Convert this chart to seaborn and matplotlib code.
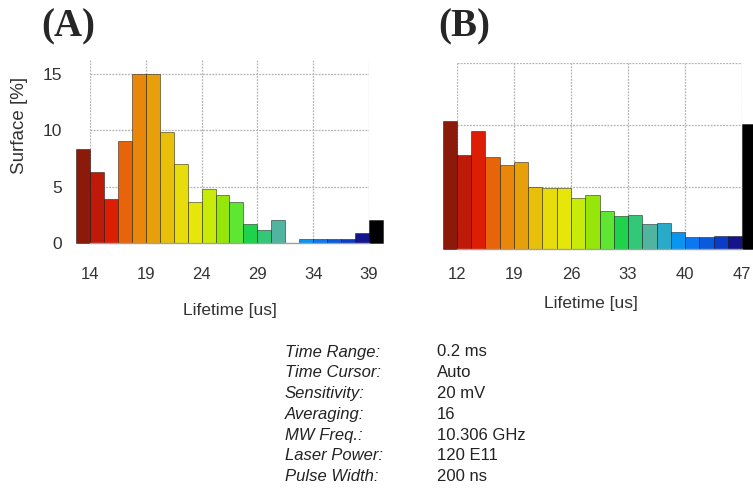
import numpy as np
import pandas as pd
import matplotlib.pyplot as plt
import seaborn as sns

sns.set_style('white')
plt.rcParams['font.family'] = ['Liberation Sans', 'DejaVu Sans']

# shared colour scale for the 22 lifetime bins (dark red -> black)
bin_colors = ['#8b1a0a', '#be1a0a', '#dc1e05', '#e8640a', '#e8870a', '#e8a00a',
              '#e8c00a', '#e8dc0a', '#e6e60a', '#c8eb0a', '#96e60a', '#5fe632',
              '#1ed24b', '#32c878', '#50b4a0', '#28aac8', '#0a96f0', '#0a78f0',
              '#0a5adc', '#0a3cc8', '#14148c', '#000000']

# panel A: lifetime bins (us) and surface share (%)
lifetime_a = np.arange(22) * 1.25 + 13.375
surface_a = [8.3, 6.3, 3.9, 9.05, 15.0, 15.0, 9.85, 7.05, 3.6, 4.75, 4.3, 3.6,
             1.65, 1.2, 2.0, 0.0, 0.35, 0.35, 0.35, 0.35, 0.85, 2.0]
ticks_a = [14, 19, 24, 29, 34, 39]

# panel B
lifetime_b = np.arange(22) * 1.75 + 11.125
surface_b = [10.3, 7.6, 9.55, 7.45, 6.75, 7.0, 5.0, 4.95, 4.95, 4.1, 4.35, 3.05,
             2.65, 2.75, 2.05, 2.1, 1.4, 1.0, 1.0, 1.05, 1.05, 10.1]
ticks_b = [12, 19, 26, 33, 40, 47]

info_labels = ['Time Range:', 'Time Cursor:', 'Sensitivity:', 'Averaging:',
               'MW Freq.:', 'Laser Power:', 'Pulse Width:']
info_values = ['0.2 ms', 'Auto', '20 mV', '16', '10.306 GHz', '120 E11', '200 ns']


def draw_hist(ax, lifetime, surface, ticks, ylim_top):
    df = pd.DataFrame({'lifetime': lifetime, 'surface': surface,
                       'bin': [str(i) for i in range(len(lifetime))]})
    sns.barplot(data=df, x='lifetime', y='surface', hue='bin',
                palette=dict(zip(df['bin'], bin_colors)), native_scale=True,
                width=1, legend=False, ax=ax, linewidth=0.7,
                edgecolor=(0, 0, 0, 0.45), saturation=1)
    for p in ax.patches:
        p.set_clip_on(False)
    ax.set_xlim(ticks[0], ticks[-1])
    ax.set_ylim(0, ylim_top)
    ax.set_xticks(ticks)
    ax.set_yticks([5, 10, 15])
    ax.grid(True, color='#b4b4b4', linestyle=(0, (1.5, 1)), linewidth=0.9)
    ax.set_axisbelow(True)
    for s in ['top', 'right', 'left']:
        ax.spines[s].set_visible(False)
    ax.spines['bottom'].set_color('#a0a0a0')
    ax.spines['bottom'].set_linewidth(1.0)
    ax.tick_params(length=0, labelsize=12, colors='#333333')
    ax.set_ylabel('')
    ax.set_xlabel('')


fig = plt.figure(figsize=(7.53, 4.88), dpi=100)
ax_a = fig.add_axes([0.1195, 0.502, 0.3705, 0.375])
ax_b = fig.add_axes([0.6069, 0.4898, 0.3785, 0.381])

draw_hist(ax_a, lifetime_a, surface_a, ticks_a, 16.24)
ax_a.set_yticks([0, 5, 10, 15])
ax_a.tick_params(axis='y', pad=20, labelsize=12.5)
ax_a.tick_params(axis='x', pad=17)
ax_a.set_xlabel('Lifetime [us]', fontsize=12.5, color='#333333')
ax_a.xaxis.set_label_coords(0.5, -0.33)
ax_a.set_ylabel('Surface [%]', fontsize=13.5, color='#333333')
ax_a.yaxis.set_label_coords(-0.222, 0.645)

draw_hist(ax_b, lifetime_b, surface_b, ticks_b, 15)
ax_b.set_yticklabels([])
ax_b.tick_params(axis='x', pad=13)
ax_b.set_xlabel('Lifetime [us]', fontsize=12.5, color='#333333')
ax_b.xaxis.set_label_coords(0.47, -0.255)

serif = ['Liberation Serif', 'DejaVu Serif']
fig.text(68 / 753, 1 - 27 / 488, '(A)', fontsize=28, fontweight='bold',
         family=serif, ha='center', va='center')
fig.text(464 / 753, 1 - 27 / 488, '(B)', fontsize=28, fontweight='bold',
         family=serif, ha='center', va='center')

for i, (lab, val) in enumerate(zip(info_labels, info_values)):
    y = 1 - (352 + i * 20.8) / 488
    fig.text(285 / 753, y, lab, fontsize=12, style='italic', color='#222222',
             va='center')
    fig.text(437 / 753, y, val, fontsize=12, color='#222222', va='center')

fig.savefig('out.png', dpi=100)
